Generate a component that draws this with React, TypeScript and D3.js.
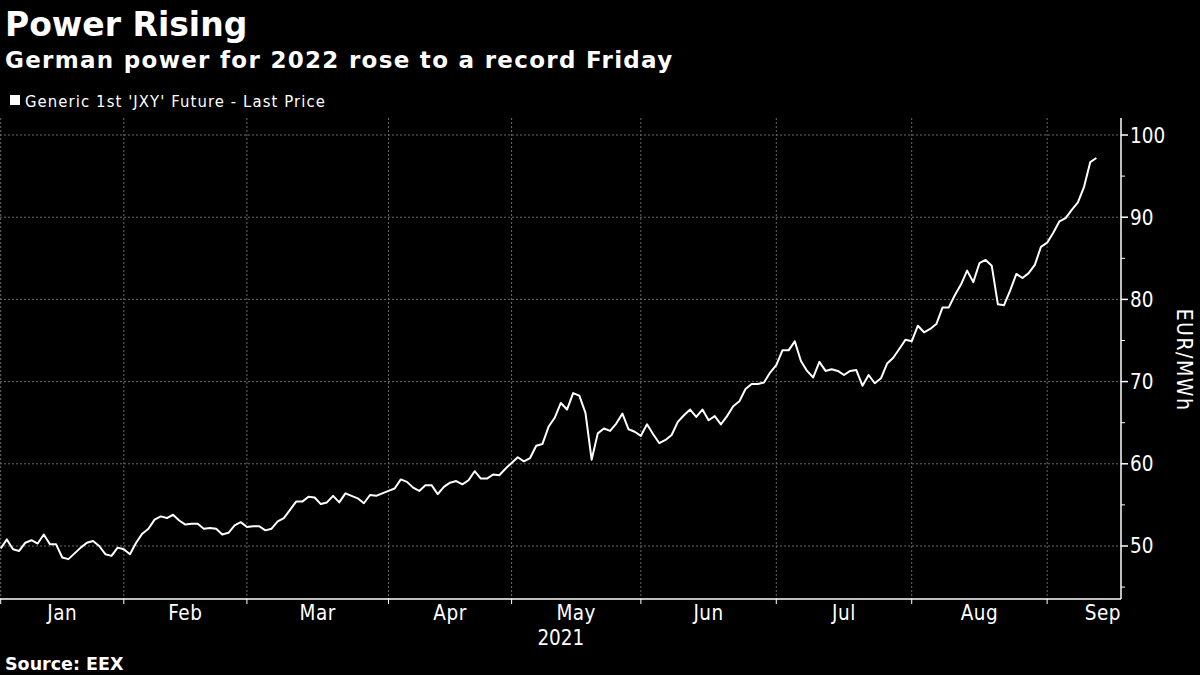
import { useEffect } from 'react'
import * as d3 from 'd3'

// Generic 1st 'JXY' Future, one value per trading day from Jan 4 2021
const prices = [
  49.7, 50.8, 49.6, 49.4, 50.4, 50.7, 50.3, 51.4, 50.2, 50.2,
  48.6, 48.4, 49.1, 49.8, 50.4, 50.6, 50.0, 49.0, 48.8, 49.8,
  49.6, 49.0, 50.4, 51.5, 52.1, 53.2, 53.6, 53.4, 53.8, 53.1,
  52.6, 52.7, 52.7, 52.1, 52.2, 52.1, 51.4, 51.6, 52.5, 52.9,
  52.3, 52.4, 52.4, 51.9, 52.1, 53.0, 53.4, 54.4, 55.4, 55.4,
  56.0, 55.9, 55.1, 55.3, 56.1, 55.3, 56.4, 56.1, 55.8, 55.2,
  56.2, 56.1, 56.4, 56.7, 57.0, 58.1, 57.8, 57.1, 56.7, 57.4,
  57.4, 56.3, 57.2, 57.7, 57.9, 57.5, 58.0, 59.1, 58.2, 58.2,
  58.7, 58.6, 59.4, 60.1, 60.8, 60.3, 60.7, 62.2, 62.4, 64.5,
  65.6, 67.4, 66.6, 68.6, 68.3, 66.2, 60.5, 63.7, 64.3, 64.0,
  64.9, 66.1, 64.2, 63.9, 63.4, 64.8, 63.6, 62.5, 62.9, 63.5,
  65.1, 65.9, 66.6, 65.7, 66.6, 65.3, 65.8, 64.8, 65.8, 67.0,
  67.6, 69.1, 69.7, 69.7, 69.9, 71.1, 72.0, 73.8, 73.8, 74.9,
  72.5, 71.3, 70.5, 72.4, 71.3, 71.5, 71.3, 70.8, 71.3, 71.4,
  69.5, 70.8, 69.8, 70.4, 72.2, 72.9, 74.0, 75.1, 74.9, 76.8,
  76.0, 76.4, 77.0, 79.0, 79.0, 80.5, 81.8, 83.5, 82.1, 84.4,
  84.8, 84.1, 79.4, 79.3, 81.1, 83.1, 82.6, 83.2, 84.2, 86.4,
  86.9, 88.1, 89.5, 89.9, 90.9, 91.8, 93.7, 96.7, 97.2,
]

// trading-day index where each month begins
const monthStarts = [0, 20, 40, 63, 83, 104, 126, 148, 170]
const monthLabels = ['Jan', 'Feb', 'Mar', 'Apr', 'May', 'Jun', 'Jul', 'Aug', 'Sep']
const xEndIndex = 182

const yTicks = [50, 60, 70, 80, 90, 100]
const yMinorTicks = [45, 55, 65, 75, 85, 95]

const W = 1200
const H = 675
const plotLeft = 0.7
const plotRight = 1121
const plotTop = 118
const plotBottom = 599

const narrow = "'DejaVu Sans Condensed', 'Liberation Sans Narrow', 'DejaVu Sans', sans-serif"
const bold = "'DejaVu Sans', 'Noto Sans', sans-serif"

export default function App() {
  useEffect(() => {
    document.body.style.margin = '0'
    document.body.style.background = '#000'
  }, [])

  const x = d3.scaleLinear().domain([0, xEndIndex]).range([plotLeft, plotRight])
  const y = d3.scaleLinear().domain([43.55, 102.07]).range([plotBottom, plotTop])

  const line = d3.line<number>()
    .x((_, i) => x(i))
    .y(d => y(d))

  return (
    <svg width={W} height={H} style={{ position: 'absolute', left: 0, top: 0, display: 'block' }}>
      <rect width={W} height={H} fill="#000" />

      <text x={5} y={36} fill="#fff" fontFamily={bold} fontWeight="bold" fontSize={33}>Power Rising</text>
      <text x={5} y={68} fill="#fff" fontFamily={bold} fontWeight="bold" fontSize={23} letterSpacing={1.3}>
        German power for 2022 rose to a record Friday
      </text>

      <rect x={10} y={95} width={10} height={10} fill="#fff" />
      <text x={25} y={107} fill="#fff" fontFamily={narrow} fontStretch="condensed" fontSize={16.5} letterSpacing={1.1}>
        Generic 1st 'JXY' Future - Last Price
      </text>

      {/* grid */}
      <g stroke="#6a6a6a" strokeWidth={1} strokeDasharray="2 2">
        {yTicks.map(t => (
          <line key={'h' + t} x1={0} x2={plotRight} y1={y(t)} y2={y(t)} />
        ))}
        {monthStarts.map(m => (
          <line key={'v' + m} x1={x(m)} x2={x(m)} y1={plotTop} y2={plotBottom} />
        ))}
      </g>

      <path d={line(prices) ?? ''} fill="none" stroke="#fff" strokeWidth={2} strokeLinejoin="round" />

      {/* axes */}
      <line x1={0} x2={plotRight} y1={plotBottom} y2={plotBottom} stroke="#fff" strokeWidth={1.5} />
      <line x1={plotRight} x2={plotRight} y1={plotTop} y2={plotBottom} stroke="#fff" strokeWidth={1.5} />

      {monthStarts.map(m => (
        <line key={'xt' + m} x1={x(m)} x2={x(m)} y1={plotBottom} y2={plotBottom + 5} stroke="#fff" strokeWidth={1} />
      ))}
      {monthLabels.map((lab, i) => {
        const last = i === monthLabels.length - 1
        const cx = last ? x(xEndIndex) : (x(monthStarts[i]) + x(monthStarts[i + 1])) / 2
        return (
          <text key={lab} x={cx} y={620} fill="#fff" fontFamily={narrow} fontStretch="condensed"
            fontSize={20.5} letterSpacing={0.5} textAnchor={last ? 'end' : 'middle'}>{lab}</text>
        )
      })}
      <text x={(plotLeft + plotRight) / 2} y={645} fill="#fff" fontFamily={narrow} fontStretch="condensed"
        fontSize={20.5} textAnchor="middle">2021</text>

      {yMinorTicks.map(t => (
        <line key={'ym' + t} x1={plotRight} x2={plotRight + 4} y1={y(t)} y2={y(t)} stroke="#fff" strokeWidth={1} />
      ))}
      {yTicks.map(t => (
        <g key={'yt' + t}>
          <line x1={plotRight} x2={plotRight + 7} y1={y(t)} y2={y(t)} stroke="#fff" strokeWidth={1.5} />
          <text x={1130} y={y(t) + 7.5} fill="#fff" fontFamily={narrow} fontStretch="condensed" fontSize={20.5}>{t}</text>
        </g>
      ))}
      <text transform={`translate(1177,360) rotate(90)`} fill="#fff" fontFamily={narrow} fontStretch="condensed"
        fontSize={21} letterSpacing={1.5} textAnchor="middle">EUR/MWh</text>

      <text x={5} y={670} fill="#fff" fontFamily={bold} fontWeight="bold" fontSize={17.5}>Source: EEX</text>
    </svg>
  )
}
